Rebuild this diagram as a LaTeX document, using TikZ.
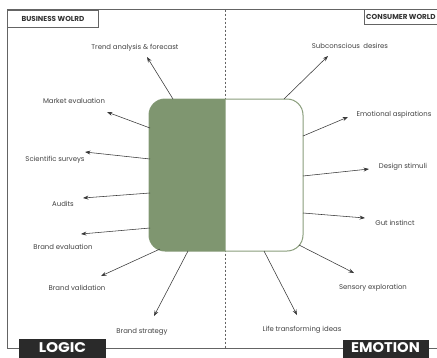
\documentclass[tikz,border=0pt]{standalone}
\usepackage{fontspec}
\setmainfont{Poppins}
\usetikzlibrary{arrows.meta}
\definecolor{sage}{RGB}{127,150,112}
\definecolor{sageline}{RGB}{138,158,124}
\definecolor{framecol}{RGB}{100,100,100}
\definecolor{ink}{RGB}{55,55,55}
\definecolor{txt}{RGB}{65,65,65}
\definecolor{tagcol}{RGB}{42,42,42}
\begin{document}
\begin{tikzpicture}[x=1pt,y=-1pt,
  lbl/.style={font=\fontsize{6.9}{8}\selectfont, text=txt, inner sep=0pt},
  arr/.style={draw=ink, line width=0.55pt, -{Stealth[length=5.5pt,width=4pt,inset=2pt]}},
  framestyle/.style={draw=framecol, line width=0.9pt},
  divider/.style={draw=framecol, line width=0.8pt, dash pattern=on 2pt off 2pt},
  hdrfont/.style={font=\bfseries\fontsize{7.2}{8}\selectfont, text=black!80, inner sep=0pt},
  hdr/.style={hdrfont, draw=framecol, line width=0.9pt, fill=white},
  tagbox/.style={fill=tagcol, inner sep=0pt},
  tagtext/.style={text=white, font=\bfseries\fontsize{14}{15}\selectfont, inner sep=0pt, anchor=base}
]
\useasboundingbox (0,0) rectangle (437,357);
\fill[white] (0,0) rectangle (437,357);

% frame and divider
\draw[framestyle] (437,9.5) -- (7,9.5) -- (7,348) -- (437,348);
\draw[divider] (225,9.5) -- (225,348);

% headers
\node[hdr, anchor=north west, minimum width=91pt, minimum height=17.5pt] (bw) at (7,9.5) {BUSINESS WOLRD};
\draw[framestyle, fill=white] (440,9.5) -- (364,9.5) -- (364,24) -- (440,24);
\node[hdrfont, anchor=west] (cw) at (366,16.8) {CONSUMER WORLD};

% central box
\node[rounded corners=16pt, fill=white, draw=sageline, line width=1pt, minimum width=154pt, minimum height=152pt, inner sep=0pt] (core) at (226,175) {};
\begin{scope}
  \clip (140,90) rectangle (225.5,260);
  \fill[sage, rounded corners=16pt] (149,99) rectangle (303,251);
\end{scope}

% arrow ends
\coordinate (s1) at (173,99);   \coordinate (t1) at (147,57);
\coordinate (s2) at (150,128);  \coordinate (t2) at (107,112);
\coordinate (s3) at (150,159);  \coordinate (t3) at (85,152);
\coordinate (s4) at (150,193);  \coordinate (t4) at (83,198);
\coordinate (s5) at (150,228);  \coordinate (t5) at (81,234);
\coordinate (s6) at (160,249);  \coordinate (t6) at (101,276);
\coordinate (s7) at (188,251);  \coordinate (t7) at (154,316);
\coordinate (s8) at (284,99);   \coordinate (t8) at (328,56);
\coordinate (s9) at (303,136);  \coordinate (t9) at (348,117);
\coordinate (s10) at (303,176); \coordinate (t10) at (369,169);
\coordinate (s11) at (303,213); \coordinate (t11) at (365,218);
\coordinate (s12) at (299,245); \coordinate (t12) at (354,273);
\coordinate (s13) at (264,251); \coordinate (t13) at (297,315);

\foreach \i in {1,...,13} { \draw[arr] (s\i) -- (t\i); }

% labels
\node[lbl] (l1) at (135,48) {Trend analysis \& forecast};
\node[lbl] (l2) at (74,101) {Market evaluation};
\node[lbl] (l3) at (55,160) {Scientific surveys};
\node[lbl] (l4) at (63,204) {Audits};
\node[lbl] (l5) at (63,247) {Brand evaluation};
\node[lbl] (l6) at (77,288) {Brand validation};
\node[lbl] (l7) at (142,332) {Brand strategy};
\node[lbl] (l8) at (350,46) {Subconscious\hspace{1.5pt} desires};
\node[lbl] (l9) at (394,115) {Emotional aspirations};
\node[lbl] (l10) at (403,167) {Design stimuli};
\node[lbl] (l11) at (395,223) {Gut instinct};
\node[lbl] (l12) at (373,288) {Sensory exploration};
\node[lbl] (l13) at (302,330) {Life transforming ideas};

% bottom tags
\node[tagbox, anchor=north west, minimum width=87pt, minimum height=21pt] (logic) at (19,339) {};
\node[tagtext] (logict) at (62.5,352) {\scalebox{1.1}[1]{LOGIC}};
\node[tagbox, anchor=north west, minimum width=86pt, minimum height=20pt] (emotion) at (343,340) {};
\node[tagtext] (emotiont) at (385.5,352) {\scalebox{1.05}[1]{EMOTION}};
\end{tikzpicture}
\end{document}
